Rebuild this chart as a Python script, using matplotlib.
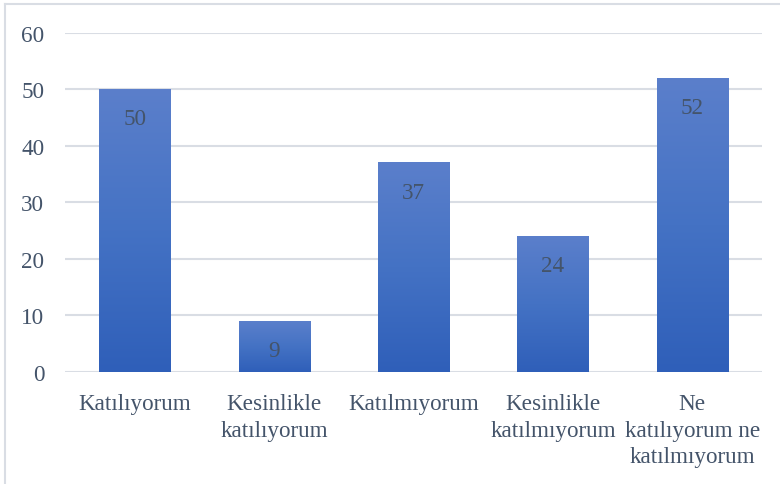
import numpy as np
import matplotlib
matplotlib.use("Agg")
import matplotlib.pyplot as plt
from matplotlib.colors import LinearSegmentedColormap
from matplotlib.lines import Line2D

categories = ["Katılıyorum", "Kesinlikle\nkatılıyorum", "Katılmıyorum",
              "Kesinlikle\nkatılmıyorum", "Ne\nkatılıyorum ne\nkatılmıyorum"]
values = [50, 9, 37, 24, 52]
y_ticks = [0, 10, 20, 30, 40, 50, 60]

text_color = "#44546a"
grid_color = "#d9dde4"
fs = 16.7
plt.rcParams["font.family"] = ["Liberation Serif", "DejaVu Serif"]

fig = plt.figure(figsize=(7.8, 4.85), dpi=100)
ax = fig.add_axes([0.0833, 0.231, 0.8936, 0.699])

# light frame around the chart area (top and left edges)
fig.add_artist(Line2D([5 / 780, 5 / 780], [0, 1 - 5 / 485], transform=fig.transFigure,
                      color=grid_color, lw=1.5))
fig.add_artist(Line2D([5 / 780, 1], [1 - 5 / 485, 1 - 5 / 485], transform=fig.transFigure,
                      color=grid_color, lw=1.5))

cmap = LinearSegmentedColormap.from_list("bar", ["#2f5fb9", "#4472c4", "#5b7fcb"])
grad = np.linspace(0, 1, 256).reshape(-1, 1)
bar_w = 0.51
x = np.arange(len(categories))

for xi, v in zip(x, values):
    ax.imshow(grad, cmap=cmap, origin="lower", aspect="auto",
              extent=[xi - bar_w / 2, xi + bar_w / 2, 0, v], zorder=2)
    ax.annotate(str(v), (xi, v), xytext=(0, -21), textcoords="offset points",
                ha="center", va="center", fontsize=fs, color=text_color, zorder=3)

ax.set_xlim(-0.5, len(categories) - 0.5)
ax.set_ylim(0, 60)
ax.set_yticks(y_ticks)
ax.set_xticks(x)
ax.set_xticklabels(categories, fontsize=fs, color=text_color, linespacing=1.36)
ax.tick_params(axis="y", labelsize=fs, labelcolor=text_color, length=0, pad=15)
ax.tick_params(axis="x", length=0, pad=15)
ax.grid(axis="y", color=grid_color, lw=1.5, zorder=0)
ax.set_axisbelow(True)
for s in ax.spines.values():
    s.set_visible(False)

fig.savefig("out.png", dpi=100)
